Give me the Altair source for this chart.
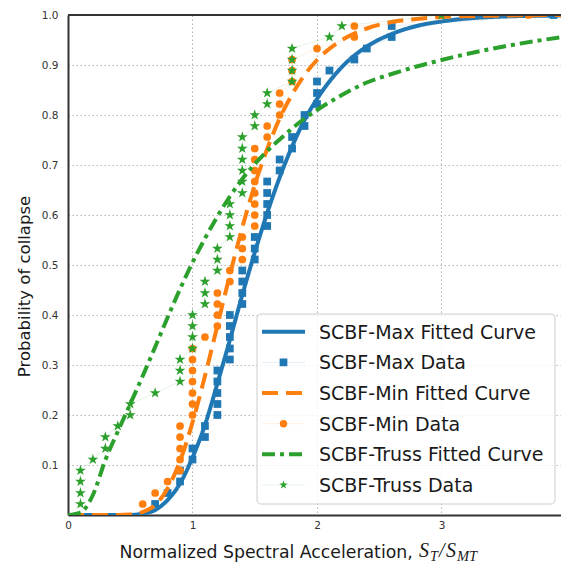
import altair as alt
import pandas as pd

# ---------------- data ----------------
levels = [0.022, 0.044, 0.067, 0.089, 0.111, 0.133, 0.156, 0.178, 0.2, 0.222,
          0.244, 0.267, 0.289, 0.311, 0.333, 0.356, 0.378, 0.4, 0.422, 0.444,
          0.467, 0.489, 0.511, 0.533, 0.556, 0.578, 0.6, 0.622, 0.644, 0.667,
          0.689, 0.711, 0.733, 0.756, 0.778, 0.8, 0.822, 0.844, 0.867, 0.889,
          0.911, 0.933, 0.956, 0.978, 1.0]

max_x = [0.7, 0.8, 0.9, 0.9, 1.0, 1.0, 1.1, 1.1, 1.2, 1.2, 1.2, 1.2, 1.2,
         1.3, 1.3, 1.3, 1.3, 1.3, 1.4, 1.4, 1.4, 1.4, 1.5, 1.5, 1.5,
         1.6, 1.6, 1.6, 1.6, 1.6, 1.7, 1.7, 1.8, 1.8, 1.9, 1.9, 2.0, 2.0, 2.0,
         2.1, 2.3, 2.4, 2.6, 2.6, 3.9]
min_x = [0.6, 0.7, 0.8, 0.9, 0.9, 0.9, 0.9, 0.9, 1.0, 1.0, 1.0, 1.0, 1.0,
         1.0, 1.0, 1.1, 1.2, 1.2, 1.2, 1.2, 1.3, 1.3, 1.4, 1.4, 1.4,
         1.5, 1.5, 1.5, 1.5, 1.5, 1.5, 1.5, 1.5, 1.6, 1.6, 1.7, 1.7, 1.7,
         1.8, 1.8, 1.8, 2.0, 2.3, 2.3, 3.7]
truss_x = [0.1, 0.1, 0.1, 0.1, 0.2, 0.3, 0.3, 0.4, 0.5, 0.5, 0.7, 0.9, 0.9,
           0.9, 1.0, 1.0, 1.0, 1.0, 1.1, 1.1, 1.1, 1.2, 1.2, 1.2, 1.3, 1.3,
           1.3, 1.3, 1.4, 1.4, 1.4, 1.4, 1.4, 1.4, 1.5, 1.5, 1.6, 1.6,
           1.8, 1.8, 1.8, 1.8, 2.1, 2.2, 3.0]

curve_x = [0, 0.1, 0.2, 0.3, 0.4, 0.5, 0.6, 0.7, 0.8, 0.9, 1.0, 1.1, 1.2, 1.3,
           1.4, 1.5, 1.6, 1.7, 1.8, 1.9, 2.0, 2.2, 2.4, 2.6, 2.8, 3.0, 3.5, 4.0]
max_fit = [0, 0, 0, 0, 0, 0, 0.003, 0.01, 0.03, 0.063, 0.115, 0.18, 0.263,
           0.35, 0.44, 0.525, 0.604, 0.675, 0.737, 0.79, 0.832, 0.896, 0.937,
           0.962, 0.978, 0.987, 0.997, 0.999]
min_fit = [0, 0, 0, 0, 0, 0.001, 0.006, 0.02, 0.053, 0.108, 0.185, 0.278,
           0.379, 0.48, 0.575, 0.66, 0.732, 0.793, 0.841, 0.88, 0.91, 0.95,
           0.973, 0.986, 0.992, 0.996, 0.999, 1.0]
truss_fit = [0, 0.005, 0.04, 0.11, 0.167, 0.222, 0.278, 0.336, 0.395, 0.452,
             0.505, 0.553, 0.597, 0.637, 0.672, 0.702, 0.728, 0.751, 0.773, 0.793,
             0.81, 0.84, 0.865, 0.882, 0.897, 0.91, 0.937, 0.957]

labels = ["SCBF-Max Fitted Curve", "SCBF-Max Data",
          "SCBF-Min Fitted Curve", "SCBF-Min Data",
          "SCBF-Truss Fitted Curve", "SCBF-Truss Data"]

x_ticks = [0, 1, 2, 3]
y_ticks = [0.1, 0.2, 0.3, 0.4, 0.5, 0.6, 0.7, 0.8, 0.9, 1.0]

# ---------------- styling ----------------
BLUE, ORANGE, GREEN = "#1f77b4", "#ff7f0e", "#2ca02c"
W, H = 493, 500
X_MAX = 3.96
FONT = "DejaVu Sans"
STAR = ("M0,-1L0.2245,-0.309L0.951,-0.309L0.3633,0.118L0.5878,0.809L0,0.382"
        "L-0.5878,0.809L-0.3633,0.118L-0.951,-0.309L-0.2245,-0.309Z")

xs = alt.Scale(domain=[0, X_MAX], nice=False, zero=False)
ys = alt.Scale(domain=[0, 1], nice=False)

xaxis = alt.Axis(values=x_ticks, format="d", grid=True, gridDash=[1.5, 2.5],
                 gridColor="#b5b5b5", gridWidth=1, ticks=False, labelPadding=5,
                 labelFontSize=10.5, labelFont=FONT, labelColor="#333",
                 labelFlush=False,
                 domainColor="#333", domainWidth=2,
                 title="Normalized Spectral Acceleration,", titleFont=FONT,
                 titleFontSize=17.3, titleFontWeight="normal", titleColor="#1a1a1a",
                 titleAlign="left", titleBaseline="alphabetic", titleX=51, titleY=42)
yaxis = alt.Axis(values=y_ticks, format=".1f", grid=True, gridDash=[1.5, 2.5],
                 gridColor="#b5b5b5", gridWidth=1, ticks=False, labelPadding=10,
                 labelFontSize=10.5, labelFont=FONT, labelColor="#333",
                 labelFlush=False,
                 domainColor="#333", domainWidth=2,
                 title="Probability of collapse", titleFont=FONT,
                 titleFontSize=16.5, titleFontWeight="normal", titleColor="#1a1a1a",
                 titleAlign="center", titleBaseline="middle", titleAngle=270,
                 titleX=-44, titleY=271)

X = lambda: alt.X("x:Q", scale=xs, axis=xaxis)
Y = lambda: alt.Y("y:Q", scale=ys, axis=yaxis)


def curve(yv, color, dash):
    df = pd.DataFrame({"x": curve_x, "y": yv})
    return alt.Chart(df).mark_line(color=color, strokeWidth=4, strokeDash=dash,
                                   strokeCap="butt", clip=True,
                                   interpolate="monotone").encode(x=X(), y=Y())


def data(xv, color, shape, size):
    df = pd.DataFrame({"x": xv, "y": levels, "i": list(range(len(xv)))})
    base = alt.Chart(df)
    ln = base.mark_line(color=color, strokeWidth=1, opacity=0.12, clip=True).encode(
        x=X(), y=Y(), order="i:Q")
    pt = base.mark_point(color=color, shape=shape, size=size, filled=True,
                         opacity=1, clip=True).encode(x=X(), y=Y())
    return [ln, pt]


layers = []
layers.append(curve(max_fit, BLUE, [1, 0]))
layers += data(max_x, BLUE, "square", 60)
layers.append(curve(min_fit, ORANGE, [16, 8]))
layers += data(min_x, ORANGE, "circle", 60)
layers.append(curve(truss_fit, GREEN, [13, 5, 4, 5]))
layers += data(truss_x, GREEN, STAR, 130)

one = pd.DataFrame({"d": [0]})

# top spine
layers.append(alt.Chart(one).mark_rule(color="#333", strokeWidth=2).encode(
    y=alt.YDatum(1.0, type="quantitative", scale=ys, axis=yaxis)))

# math part of x-axis title
math_parts = [("S", 351, 20, 0), ("T", 362, 14, 4), ("/", 371, 20, 0),
              ("S", 378, 20, 0), ("MT", 389, 14.5, 4)]
for txt, px, fs, dy in math_parts:
    layers.append(alt.Chart(one).mark_text(
        font="Liberation Serif", fontStyle="italic", fontSize=fs, align="left",
        baseline="alphabetic", color="#1a1a1a").encode(
        x=alt.value(px), y=alt.value(542 + dy), text=alt.value(txt)))

# legend
layers.append(alt.Chart(one).mark_rect(
    fill="white", fillOpacity=0.8, stroke="#cccccc", strokeWidth=1,
    cornerRadius=4).encode(x=alt.value(189), x2=alt.value(487),
                           y=alt.value(299), y2=alt.value(489)))
entries = [("curve", BLUE, [1, 0], None, 0), ("data", BLUE, None, "square", 60),
           ("curve", ORANGE, [16, 8], None, 0), ("data", ORANGE, None, "circle", 55),
           ("curve", GREEN, [13, 5, 4, 5], None, 0), ("data", GREEN, None, STAR, 80)]
for i, (lab, (kind, col, dash, shp, sz)) in enumerate(zip(labels, entries)):
    yc = 316.7 + i * 30.66
    if kind == "curve":
        layers.append(alt.Chart(one).mark_rule(
            color=col, strokeWidth=4, strokeDash=dash, strokeCap="butt").encode(
            x=alt.value(194), x2=alt.value(237), y=alt.value(yc)))
    else:
        layers.append(alt.Chart(one).mark_rule(
            color=col, strokeWidth=1, opacity=0.12).encode(
            x=alt.value(194), x2=alt.value(237), y=alt.value(yc)))
        layers.append(alt.Chart(one).mark_point(
            color=col, shape=shp, size=sz, filled=True, opacity=1).encode(
            x=alt.value(215.5), y=alt.value(yc)))
    layers.append(alt.Chart(one).mark_text(
        font=FONT, fontSize=19, align="left", baseline="middle",
        color="#1a1a1a").encode(x=alt.value(251), y=alt.value(yc + 1),
                                text=alt.value(lab)))

chart = alt.layer(*layers).properties(
    width=W, height=H,
    padding={"left": 68, "top": 15, "right": 0, "bottom": 49},
    autosize=alt.AutoSizeParams(type="none"),
).configure_view(stroke=None)

chart.save("out.html", embed_options={"renderer": "svg", "actions": False})
